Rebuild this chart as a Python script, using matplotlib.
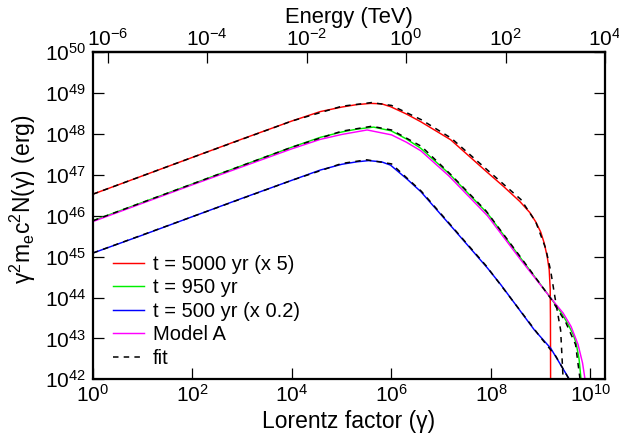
import numpy as np
import matplotlib
matplotlib.use("Agg")
import matplotlib.pyplot as plt
from matplotlib.ticker import FixedLocator, FixedFormatter, NullLocator

plt.rcParams['font.family'] = ['Liberation Sans', 'DejaVu Sans']
plt.rcParams['mathtext.fontset'] = 'custom'
plt.rcParams['mathtext.rm'] = 'Liberation Sans'
plt.rcParams['mathtext.it'] = 'Liberation Sans:italic'
plt.rcParams['mathtext.bf'] = 'Liberation Sans:bold'
plt.rcParams['axes.unicode_minus'] = False

# ---- data (log10 gamma, log10 energy content) ----
red_lg = [0, 1, 2, 3, 4, 4.57, 5.0, 5.3, 5.58, 5.8, 5.98, 6.3, 6.59, 7.19, 7.91, 8.25, 8.58, 8.78, 8.90, 9.0, 9.07, 9.13, 9.17, 9.19, 9.195, 9.2]
red_ly = [46.53, 46.98, 47.43, 47.88, 48.32, 48.55, 48.66, 48.72, 48.75, 48.74, 48.67, 48.49, 48.30, 47.86, 47.08, 46.72, 46.35, 46.08, 45.85, 45.60, 45.33, 45.00, 44.68, 44.20, 43.5, 41.0]

red_fit_lg = [0, 2, 4, 5.0, 5.6, 6.0, 6.6, 7.2, 7.9, 8.6, 8.9, 9.1, 9.2, 9.3, 9.4, 9.45, 9.46]
red_fit_ly = [46.53, 47.43, 48.32, 48.68, 48.77, 48.70, 48.35, 47.90, 47.15, 46.40, 45.85, 45.20, 44.65, 43.90, 43.20, 42.0, 41.0]

green_lg = [0, 1, 2, 3, 4, 4.57, 5.0, 5.3, 5.64, 5.99, 6.3, 6.59, 7.15, 7.93, 8.60, 9.20, 9.40, 9.54, 9.65, 9.71, 9.77, 9.81, 9.83]
green_ly = [45.88, 46.33, 46.78, 47.23, 47.68, 47.92, 48.05, 48.12, 48.17, 48.08, 47.88, 47.65, 47.04, 46.06, 44.96, 43.99, 43.65, 43.37, 43.10, 42.89, 42.50, 42.0, 41.0]

green_fit_lg = [0, 2, 4, 5.0, 5.6, 6.0, 6.6, 7.2, 7.9, 8.6, 9.2, 9.5, 9.7, 9.79, 9.81]
green_fit_ly = [45.88, 46.78, 47.68, 48.07, 48.19, 48.10, 47.70, 47.00, 46.12, 44.98, 43.98, 43.40, 42.85, 42.0, 41.0]

model_lg = [0, 2, 4, 4.57, 5.0, 5.51, 6.0, 6.3, 6.59, 7.15, 7.93, 8.60, 9.20, 9.45, 9.61, 9.75, 9.84, 9.89, 9.91]
model_ly = [45.86, 46.76, 47.64, 47.87, 47.99, 48.10, 47.98, 47.80, 47.59, 46.98, 46.00, 44.92, 43.99, 43.62, 43.29, 42.85, 42.40, 42.0, 41.0]

blue_lg = [0, 1, 2, 3, 4, 4.57, 5.0, 5.3, 5.54, 5.8, 5.98, 6.32, 6.59, 7.26, 7.93, 8.20, 8.87, 9.20, 9.57, 9.62]
blue_ly = [45.09, 45.53, 45.98, 46.43, 46.87, 47.12, 47.26, 47.32, 47.35, 47.32, 47.24, 46.89, 46.59, 45.66, 44.72, 44.31, 43.21, 42.76, 42.01, 41.9]

blue_fit_lg = [0, 2, 4, 5.0, 5.5, 6.0, 6.6, 7.3, 7.9, 8.6, 9.0, 9.3, 9.57, 9.62]
blue_fit_ly = [45.09, 45.98, 46.87, 47.28, 47.37, 47.27, 46.60, 45.62, 44.78, 43.66, 43.02, 42.57, 42.0, 41.9]

labels = ["t = 5000 yr (x 5)", "t = 950 yr", "t = 500 yr (x 0.2)", "Model A", "fit"]
colors = ["#ff0000", "#00ee00", "#0000ff", "#ff00ff", "black"]

x_tick_exp = [0, 2, 4, 6, 8, 10]
y_tick_exp = [42, 43, 44, 45, 46, 47, 48, 49, 50]
top_tick_exp = [-6, -4, -2, 0, 2, 4]
mec2_TeV = 5.11e-7

def p(lg, ly):
    return 10.0 ** np.array(lg), 10.0 ** np.array(ly)

fig = plt.figure(figsize=(6.19, 4.41), dpi=100)
ax = fig.add_axes([93/619, 1-379.3/441, 512/619, (379.3-52.3)/441])
ax.set_xscale('log')
ax.set_yscale('log')

lw = 1.05
h_red, = ax.plot(*p(red_lg, red_ly), color=colors[0], lw=lw)
h_green, = ax.plot(*p(green_lg, green_ly), color=colors[1], lw=lw)
h_blue, = ax.plot(*p(blue_lg, blue_ly), color=colors[2], lw=lw)
h_model, = ax.plot(*p(model_lg, model_ly), color=colors[3], lw=lw)
ds = (0, (3.6, 3.4))
h_fit, = ax.plot(*p(red_fit_lg, red_fit_ly), color='black', lw=1.1, ls=ds)
ax.plot(*p(green_fit_lg, green_fit_ly), color='black', lw=1.1, ls=ds)
ax.plot(*p(blue_fit_lg, blue_fit_ly), color='black', lw=1.1, ls=ds)

ax.set_xlim(1, 1e4 / mec2_TeV)
ax.set_ylim(1e42, 1e50)

ax.xaxis.set_major_locator(FixedLocator([10.0**e for e in x_tick_exp]))
ax.xaxis.set_major_formatter(FixedFormatter([r'$\mathregular{10^{%d}}$' % e for e in x_tick_exp]))
ax.xaxis.set_minor_locator(NullLocator())
ax.yaxis.set_major_locator(FixedLocator([10.0**e for e in y_tick_exp]))
ax.yaxis.set_major_formatter(FixedFormatter([r'$\mathregular{10^{%d}}$' % e for e in y_tick_exp]))
ax.yaxis.set_minor_locator(NullLocator())

ax.tick_params(which='major', direction='in', length=8, width=0.9, labelsize=15,
               top=False, right=True, labelright=False)
ax.tick_params(axis='x', pad=3)
ax.tick_params(axis='y', pad=5)
for s in ax.spines.values():
    s.set_linewidth(1.6)

sec = ax.secondary_xaxis('top', functions=(lambda g: g * mec2_TeV, lambda e: e / mec2_TeV))
sec.xaxis.set_major_locator(FixedLocator([10.0**e for e in top_tick_exp]))
sec.xaxis.set_major_formatter(FixedFormatter([r'$\mathregular{10^{%d}}$' % e for e in top_tick_exp]))
sec.xaxis.set_minor_locator(NullLocator())
sec.tick_params(which='major', direction='in', length=8, width=0.9, labelsize=15, pad=1.5)
sec.spines['top'].set_linewidth(1.6)
sec.set_xlabel("Energy (TeV)", fontsize=15.8, labelpad=4)

ax.set_xlabel("Lorentz factor (γ)", fontsize=16.5, labelpad=3)
ax.set_ylabel(r"$\mathregular{γ^2m_ec^2N(γ)}$ (erg)", fontsize=16.5)
ax.yaxis.set_label_coords(-0.107, 0.55)

leg = ax.legend([h_red, h_green, h_blue, h_model, h_fit], labels,
                loc='upper left', bbox_to_anchor=(0.039, 0.38), frameon=False,
                fontsize=14.5, handlelength=1.55, handletextpad=0.45,
                labelspacing=0.22, borderpad=0, borderaxespad=0)

fig.savefig("out.png", dpi=100)
